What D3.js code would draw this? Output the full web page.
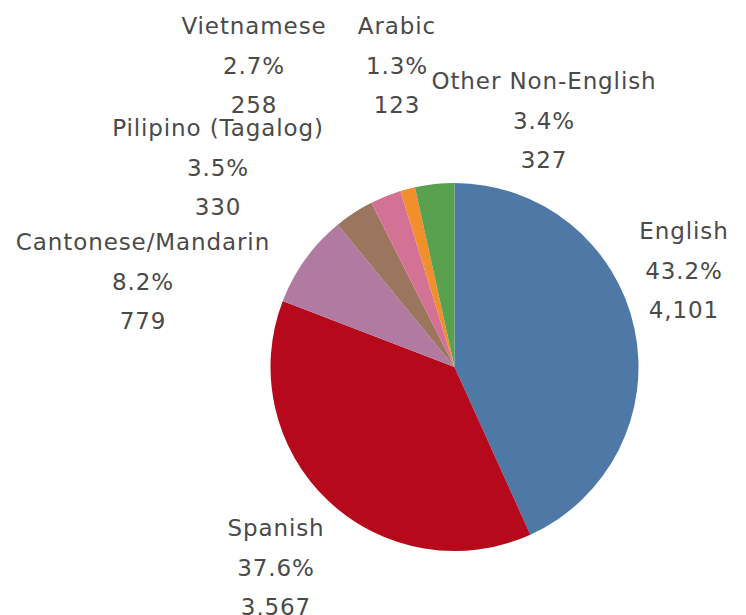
<!DOCTYPE html>
<meta charset="utf-8" />
<title>Languages pie</title>
<style>
  body { margin: 0; background: #fff; }
  text {
    font-family: "DejaVu Sans", sans-serif;
    font-size: 23px;
    letter-spacing: 0.9px;
    fill: #4a4a4a;
  }
</style>
<body>
  <svg width="746" height="615"></svg>
  <script src="https://d3js.org/d3.v7.min.js"></script>
  <script>
    const width = 746, height = 615;

    // data
    const languages = ["English", "Spanish", "Cantonese/Mandarin", "Pilipino (Tagalog)",
                       "Vietnamese", "Arabic", "Other Non-English"];
    const counts = [4101, 3567, 779, 330, 258, 123, 327];
    const colors = ["#4e79a7", "#b60a1c", "#b07aa1", "#9c755f", "#d37295", "#f28e2b", "#59a14f"];

    // label anchor (center of first line's baseline)
    const labelAt = {
      "English": [684, 239],
      "Spanish": [276, 536],
      "Cantonese/Mandarin": [143, 250],
      "Pilipino (Tagalog)": [218, 136],
      "Vietnamese": [254, 34],
      "Arabic": [397, 34],
      "Other Non-English": [544, 89]
    };

    const cx = 454.5, cy = 367, radius = 184;
    const lineGap = 39.5;

    const svg = d3.select("svg");
    const total = d3.sum(counts);
    const data = languages.map((name, i) => ({ name, value: counts[i], color: colors[i] }));

    const pie = d3.pie().value(d => d.value).sort(null);
    const arc = d3.arc().innerRadius(0).outerRadius(radius);

    const g = svg.append("g").attr("transform", `translate(${cx},${cy})`);
    g.selectAll("path")
      .data(pie(data))
      .join("path")
      .attr("d", arc)
      .attr("fill", d => d.data.color);

    const fmtPct = d3.format(".1%");
    const fmtNum = d3.format(",");

    const labels = svg.append("g")
      .selectAll("text")
      .data(data)
      .join("text")
      .attr("text-anchor", "middle")
      .attr("x", d => labelAt[d.name][0])
      .attr("y", d => labelAt[d.name][1]);

    labels.each(function(d) {
      const t = d3.select(this);
      const lines = [d.name, fmtPct(d.value / total), fmtNum(d.value)];
      lines.forEach((s, i) => {
        t.append("tspan")
          .attr("x", labelAt[d.name][0])
          .attr("y", labelAt[d.name][1] + i * lineGap)
          .text(s);
      });
    });
  </script>
</body>
